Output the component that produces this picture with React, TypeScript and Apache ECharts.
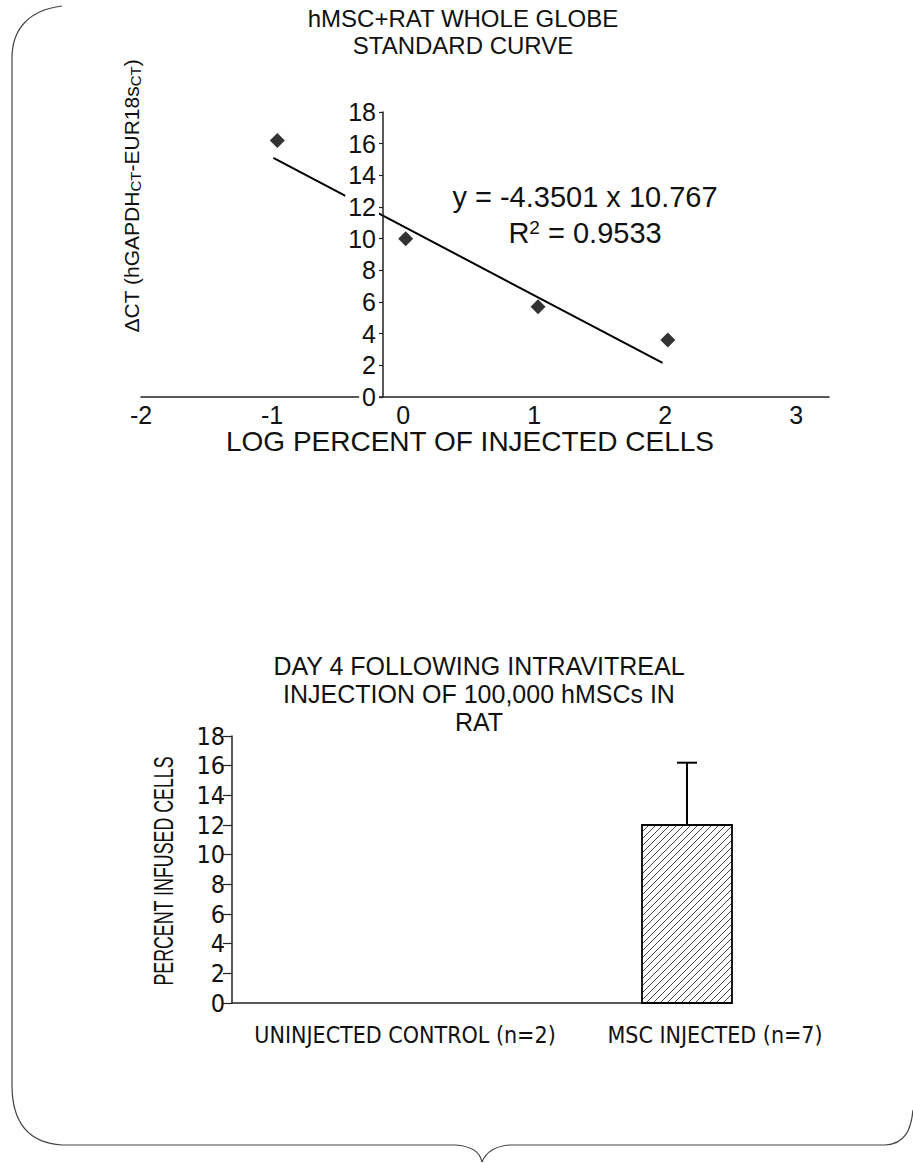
import { useEffect, useRef } from 'react';
import * as echarts from 'echarts';

// ---- top chart: standard curve ----
const curveX = [-0.96, 0.02, 1.03, 2.02];
const curveY = [16.2, 10.0, 5.7, 3.6];
const trendX = [-0.99, 1.98];
const trendY = [15.1, 2.15];
const topTitle = 'hMSC+RAT WHOLE GLOBE\nSTANDARD CURVE';
const topXName = 'LOG PERCENT OF INJECTED CELLS';
const equationText = 'y = -4.3501 x 10.767';
const r2Value = '0.9533';

// ---- bottom chart: day 4 ----
const barCategories = ['UNINJECTED CONTROL (n=2)', 'MSC INJECTED (n=7)'];
const barMeans = [0, 12];
const barErrors = [0, 4.2];
const bottomTitle = 'DAY 4 FOLLOWING INTRAVITREAL\nINJECTION OF 100,000 hMSCs IN\nRAT';
const bottomYName = 'PERCENT INFUSED CELLS';

const SANS = "'Liberation Sans', Arial, sans-serif";
const COND = "'DejaVu Sans Condensed', 'Liberation Sans Narrow', 'Liberation Sans', sans-serif";

export default function App() {
  const ref = useRef<HTMLDivElement>(null);
  useEffect(() => {
    const chart = echarts.init(ref.current!, undefined, { renderer: 'svg' });
    const grayLine = { stroke: '#444', lineWidth: 1.2, fill: null };
    const option: any = {
      animation: false,
      backgroundColor: '#fff',
      title: [
        {
          text: topTitle,
          left: 458,
          top: 0,
          textAlign: 'center',
          textStyle: { fontFamily: SANS, fontSize: 24, fontWeight: 'normal', color: '#111', lineHeight: 27 },
        },
        {
          text: bottomTitle,
          left: 474,
          top: 647,
          textAlign: 'center',
          textStyle: { fontFamily: SANS, fontSize: 25, fontWeight: 'normal', color: '#111', lineHeight: 28 },
        },
      ],
      grid: [
        { left: 141, top: 112, width: 688, height: 285 },
        { left: 232, top: 736, width: 500, height: 267 },
      ],
      xAxis: [
        {
          gridIndex: 0,
          type: 'value',
          min: -2,
          max: 3.25,
          interval: 1,
          splitLine: { show: false },
          axisTick: { show: false },
          axisLine: { onZero: false, lineStyle: { color: '#222', width: 1.5 } },
          axisLabel: {
            fontFamily: SANS, fontSize: 25, color: '#111', margin: 5,
            formatter: (v: number) => (Math.abs(v - Math.round(v)) < 1e-6 ? String(Math.round(v)) : ''),
          },
          name: topXName,
          nameLocation: 'middle',
          nameGap: 30,
          nameTextStyle: { fontFamily: SANS, fontSize: 28, color: '#111', padding: [0, 30, 0, 0] },
        },
        {
          gridIndex: 1,
          type: 'category',
          data: barCategories,
          axisTick: { show: false },
          axisLine: { lineStyle: { color: '#222', width: 1.5 } },
          axisLabel: {
            interval: 0,
            margin: 20,
            color: '#111',
            formatter: (v: string, i: number) => `{c${i}|${v}}`,
            rich: {
              c0: { fontFamily: COND, fontSize: 23, color: '#111', padding: [0, 0, 0, 96] },
              c1: { fontFamily: COND, fontSize: 23, color: '#111', padding: [0, 0, 0, 216] },
            },
          },
        },
      ],
      yAxis: [
        {
          gridIndex: 0,
          type: 'value',
          min: 0,
          max: 18,
          interval: 2,
          z: 10,
          offset: -242,
          splitLine: { show: false },
          axisLine: { show: true, onZero: false, lineStyle: { color: '#222', width: 1.5 } },
          axisTick: { show: true, length: 10, lineStyle: { color: '#222', width: 1.2 } },
          axisLabel: {
            fontFamily: SANS, fontSize: 25, color: '#111', margin: 4,
            backgroundColor: '#fff', padding: [0, 3, 0, 3],
          },
        },
        {
          gridIndex: 1,
          type: 'value',
          min: 0,
          max: 18,
          interval: 2,
          splitLine: { show: false },
          axisLine: { show: true, lineStyle: { color: '#222', width: 1.5 } },
          axisTick: { show: true, length: 9, lineStyle: { color: '#222', width: 1.2 } },
          axisLabel: { fontFamily: COND, fontSize: 25, color: '#111', margin: 7 },
        },
      ],
      series: [
        {
          type: 'line',
          xAxisIndex: 0,
          yAxisIndex: 0,
          data: trendX.map((x, i) => [x, trendY[i]]),
          symbol: 'none',
          lineStyle: { color: '#000', width: 2 },
          z: 2,
        },
        {
          type: 'scatter',
          xAxisIndex: 0,
          yAxisIndex: 0,
          data: curveX.map((x, i) => [x, curveY[i]]),
          symbol: 'diamond',
          symbolSize: [15, 15],
          itemStyle: { color: '#000' },
          z: 3,
        },
        {
          type: 'custom',
          xAxisIndex: 1,
          yAxisIndex: 1,
          data: barCategories.map((_, i) => [i, barMeans[i], barErrors[i]]),
          renderItem: (params: any, api: any) => {
            const idx = api.value(0);
            const v = api.value(1);
            const e = api.value(2);
            if (!(v > 0)) return { type: 'group', children: [] };
            const band = api.size([1, 0])[0];
            const top = api.coord([idx, v]);
            const base = api.coord([idx, 0]);
            const errTop = api.coord([idx, v + e]);
            const cx = top[0] + band * 0.32;
            const w = band * 0.36;
            const x0 = cx - w / 2;
            const x1 = cx + w / 2;
            const y0 = top[1];
            const y1 = base[1];
            const children: any[] = [];
            children.push({
              type: 'rect',
              shape: { x: x0, y: y0, width: w, height: y1 - y0 },
              style: { fill: '#fff', stroke: null },
            });
            const step = 7;
            for (let k = x0 + y0 + step; k < x1 + y1; k += step) {
              const xa = Math.max(x0, k - y1);
              const xb = Math.min(x1, k - y0);
              if (xb <= xa) continue;
              children.push({
                type: 'line',
                shape: { x1: xa, y1: k - xa, x2: xb, y2: k - xb },
                style: { stroke: '#333', lineWidth: 0.9 },
              });
            }
            children.push({
              type: 'rect',
              shape: { x: x0, y: y0, width: w, height: y1 - y0 },
              style: { fill: null, stroke: '#000', lineWidth: 1.8 },
            });
            children.push({
              type: 'line',
              shape: { x1: cx, y1: y0, x2: cx, y2: errTop[1] },
              style: { stroke: '#000', lineWidth: 2 },
            });
            children.push({
              type: 'line',
              shape: { x1: cx - 10, y1: errTop[1], x2: cx + 10, y2: errTop[1] },
              style: { stroke: '#000', lineWidth: 2 },
            });
            return { type: 'group', children };
          },
          z: 3,
        },
      ],
      graphic: [
        {
          type: 'text',
          x: 131,
          y: 196,
          rotation: Math.PI / 2,
          style: {
            text: '{n|ΔCT (hGAPDH}{s|CT}{n|-EUR18s}{s|CT}{n|)}',
            align: 'center',
            verticalAlign: 'middle',
            rich: {
              n: { fontFamily: SANS, fontSize: 21, fill: '#111' },
              s: { fontFamily: SANS, fontSize: 15, fill: '#111', verticalAlign: 'bottom', padding: [8, 0, 0, 0] },
            },
          },
        },
        {
          type: 'text',
          x: 585,
          y: 197,
          style: {
            text: equationText,
            align: 'center',
            verticalAlign: 'middle',
            font: `29px ${SANS}`,
            fill: '#111',
          },
        },
        {
          type: 'text',
          x: 585,
          y: 233,
          style: {
            text: `{n|R}{p|2}{n| = ${r2Value}}`,
            align: 'center',
            verticalAlign: 'middle',
            rich: {
              n: { fontFamily: SANS, fontSize: 29, fill: '#111' },
              p: { fontFamily: SANS, fontSize: 19, fill: '#111', verticalAlign: 'top', padding: [0, 0, 12, 0] },
            },
          },
        },
        {
          type: 'text',
          x: 164,
          y: 871,
          rotation: Math.PI / 2,
          scaleX: 0.66,
          style: {
            text: bottomYName,
            align: 'center',
            verticalAlign: 'middle',
            font: `27px ${SANS}`,
            fill: '#111',
          },
        },
        {
          type: 'group',
          silent: true,
          children: [
            { type: 'bezierCurve', shape: { x1: 62, y1: 6, cpx1: 28, cpy1: 10, cpx2: 12, cpy2: 30, x2: 12, y2: 58 }, style: grayLine },
            { type: 'line', shape: { x1: 12, y1: 58, x2: 12, y2: 1085 }, style: grayLine },
            { type: 'bezierCurve', shape: { x1: 12, y1: 1085, cpx1: 12, cpy1: 1125, cpx2: 30, cpy2: 1143, x2: 62, y2: 1145 }, style: grayLine },
            { type: 'line', shape: { x1: 62, y1: 1145, x2: 455, y2: 1145 }, style: grayLine },
            { type: 'bezierCurve', shape: { x1: 455, y1: 1145, cpx1: 472, cpy1: 1146, cpx2: 480, cpy2: 1152, x2: 482, y2: 1162 }, style: grayLine },
            { type: 'bezierCurve', shape: { x1: 482, y1: 1162, cpx1: 486, cpy1: 1152, cpx2: 495, cpy2: 1146, x2: 510, y2: 1145 }, style: grayLine },
            { type: 'line', shape: { x1: 510, y1: 1145, x2: 885, y2: 1145 }, style: grayLine },
            { type: 'bezierCurve', shape: { x1: 885, y1: 1145, cpx1: 905, cpy1: 1144, cpx2: 911, cpy2: 1130, x2: 913, y2: 1110 }, style: grayLine },
          ],
        },
      ],
    };
    chart.setOption(option);
    return () => chart.dispose();
  }, []);
  return (
    <div
      ref={ref}
      style={{ position: 'absolute', left: 0, top: 0, width: 913, height: 1163, background: '#fff' }}
    />
  );
}
